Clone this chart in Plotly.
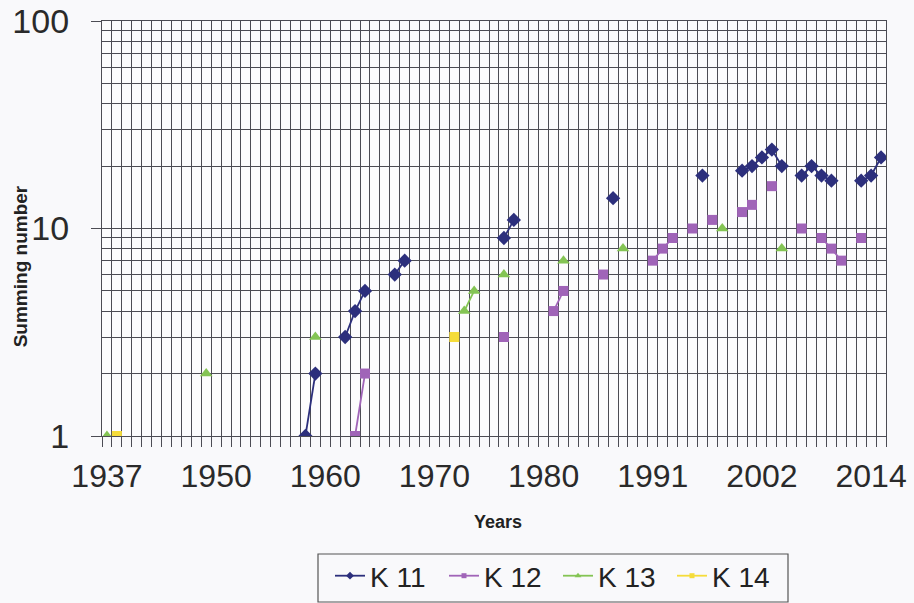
import plotly.graph_objects as go
import numpy as np

# ---- data ----
n_categories = 79
tick_positions = [0, 11, 22, 33, 44, 55, 66, 77]
tick_labels = ["1937", "1950", "1960", "1970", "1980", "1991", "2002", "2014"]

k11_idx = [20, 21, 24, 25, 26, 29, 30, 40, 41, 51, 60, 64, 65, 66, 67, 68, 70, 71, 72, 73, 76, 77, 78]
k11_val = [1, 2, 3, 4, 5, 6, 7, 9, 11, 14, 18, 19, 20, 22, 24, 20, 18, 20, 18, 17, 17, 18, 22]

k12_idx = [25, 26, 40, 45, 46, 50, 55, 56, 57, 59, 61, 64, 65, 67, 70, 72, 73, 74, 76]
k12_val = [1, 2, 3, 4, 5, 6, 7, 8, 9, 10, 11, 12, 13, 16, 10, 9, 8, 7, 9]

k13_idx = [0, 10, 21, 36, 37, 40, 46, 52, 62, 68]
k13_val = [1, 2, 3, 4, 5, 6, 7, 8, 10, 8]

k14_idx = [1, 35]
k14_val = [1, 3]

y_major = [1, 10, 100]
y_minor = [2, 3, 4, 5, 6, 7, 8, 9, 20, 30, 40, 50, 60, 70, 80, 90]


def full_series(idx, val):
    arr = [None] * n_categories
    for i, v in zip(idx, val):
        arr[i] = v
    return arr


x = list(range(n_categories))
series = [
    ("K 11", k11_idx, k11_val, "#2c2f7c", "diamond", 11, 6),
    ("K 12", k12_idx, k12_val, "#a064b8", "square", 10, 5),
    ("K 13", k13_idx, k13_val, "#84c454", "triangle-up", 11, 6),
    ("K 14", k14_idx, k14_val, "#f5dc3a", "square", 10, 5),
]

fig = go.Figure()
for name, idx, val, color, sym, size, lsize in series:
    fig.add_trace(go.Scatter(
        x=x, y=full_series(idx, val), name=name, mode="lines+markers",
        connectgaps=False, showlegend=False, legendgroup=name,
        line=dict(color=color, width=1.8),
        marker=dict(symbol=sym, size=size, color=color),
    ))
# legend entries with the small symbols used in the reference legend
for name, idx, val, color, sym, size, lsize in series:
    fig.add_trace(go.Scatter(
        x=[None], y=[None], name=name, mode="lines+markers",
        legendgroup=name, showlegend=True,
        line=dict(color=color, width=1.8),
        marker=dict(symbol=sym, size=lsize, color=color),
    ))

grid = "#4c4c54"
font_main = "Liberation Sans, Arial, sans-serif"
boundaries = list(np.arange(n_categories + 1) - 0.5)

# plot area in pixels: x 102..886, y 21..436
pl, pr, pt, pb = 102, 886, 21, 436
box = dict(x0=318, x1=788, y0=554, y1=602)

fig.update_layout(
    width=914, height=603,
    margin=dict(l=pl, r=914 - pr, t=pt, b=603 - pb, autoexpand=False),
    paper_bgcolor="#f9f9fb",
    plot_bgcolor="#fcfcfd",
    font=dict(family=font_main, color="#2a2a2a"),
    showlegend=True,
    legend=dict(
        orientation="h",
        xref="container", yref="container",
        x=330 / 914, xanchor="left",
        y=1 - 551 / 603, yanchor="top",
        font=dict(size=28, color="#222222"),
        borderwidth=0,
        bgcolor="rgba(0,0,0,0)",
        entrywidth=69, entrywidthmode="pixels",
        itemwidth=30,
        tracegroupgap=0,
    ),
    shapes=[
        dict(type="rect", xref="paper", yref="paper",
             x0=(box["x0"] - pl) / (pr - pl), x1=(box["x1"] - pl) / (pr - pl),
             y0=(pb - box["y0"]) / (pb - pt), y1=(pb - box["y1"]) / (pb - pt),
             line=dict(color="#555555", width=1.2), fillcolor="rgba(0,0,0,0)",
             layer="below"),
    ],
    xaxis=dict(
        range=[-0.5, n_categories - 0.5],
        automargin=False,
        tickmode="array", tickvals=tick_positions, ticktext=tick_labels,
        ticks="", showgrid=False, zeroline=False,
        tickfont=dict(size=32, color="#2a2a2a"),
        ticklabelstandoff=11,
        showline=True, linecolor=grid, linewidth=1.2, mirror=True,
        minor=dict(tickmode="array", tickvals=boundaries, ticks="outside",
                   ticklen=10, tickcolor=grid, showgrid=True,
                   gridcolor=grid, gridwidth=1),
    ),
    yaxis=dict(
        type="log", range=[0, 2],
        automargin=False,
        tickmode="array", tickvals=y_major, ticktext=[str(v) for v in y_major],
        ticks="outside", ticklen=10, tickcolor=grid,
        showgrid=True, gridcolor=grid, gridwidth=1.2,
        tickfont=dict(size=34, color="#2a2a2a"),
        ticklabelstandoff=15,
        showline=True, linecolor=grid, linewidth=1.2, mirror=True,
        minor=dict(tickmode="array", tickvals=y_minor, ticks="",
                   showgrid=True, gridcolor=grid, gridwidth=1),
    ),
    annotations=[
        dict(text="<b>Summing number</b>", xref="paper", yref="paper",
             x=-0.104, y=0.41, xanchor="center", yanchor="middle",
             textangle=-90, showarrow=False,
             font=dict(size=19, color="#222222")),
        dict(text="<b>Years</b>", xref="paper", yref="paper",
             x=0.505, y=-0.207, xanchor="center", yanchor="middle",
             showarrow=False, font=dict(size=18, color="#222222")),
    ],
)

fig.write_html(
    "out.html",
    config={"displayModeBar": False},
    post_script="document.body.style.margin='0';document.body.style.overflow='hidden';",
)
